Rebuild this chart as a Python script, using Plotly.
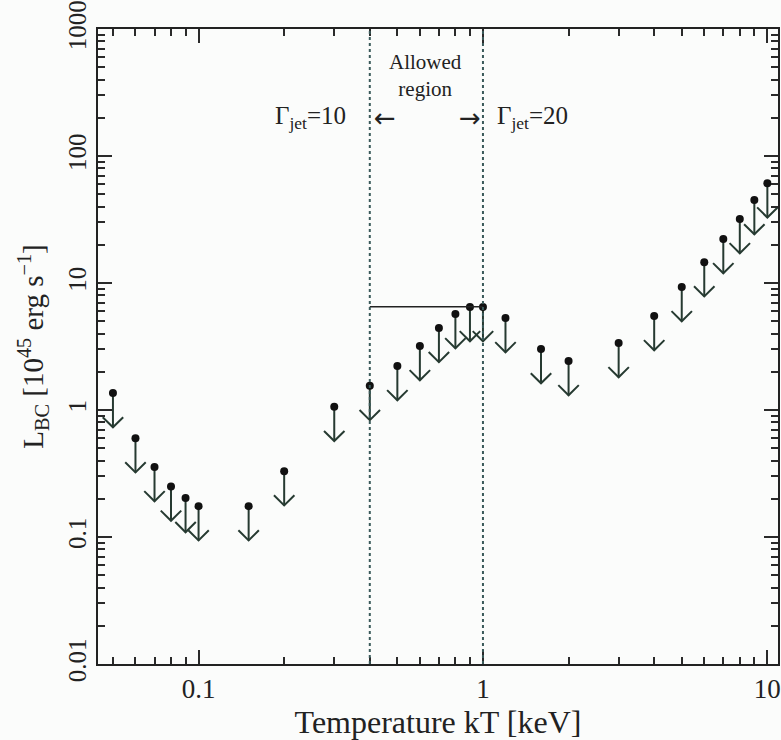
import numpy as np
import plotly.graph_objects as go

# ---- data ----
kT = [0.05, 0.06, 0.07, 0.08, 0.09, 0.10, 0.15, 0.20, 0.30, 0.40, 0.50, 0.60, 0.70,
      0.80, 0.90, 1.00, 1.20, 1.60, 2.00, 3.00, 4.00, 5.00, 6.00, 7.00, 8.00, 9.00, 10.0]
L_upper = [1.36, 0.60, 0.356, 0.25, 0.203, 0.175, 0.175, 0.33, 1.06, 1.55, 2.22, 3.19, 4.43,
           5.7, 6.47, 6.47, 5.3, 3.02, 2.43, 3.37, 5.5, 9.3, 14.6, 22.2, 31.9, 45.0, 61.0]
allowed_range = [0.4, 1.0]
allowed_level = 6.5
x_ticks = [0.1, 1, 10]
x_ticktext = ["0.1", "1", "10"]
y_ticks = [0.01, 0.1, 1, 10, 100, 1000]
y_ticktext = ["0.01", "0.1", "1", "10", "100", "1000"]

# arrow geometry (log units)
stem = 0.27
head_h = 0.08
head_w = 0.036

ARROW = "#263a31"
INK = "#222"
FONT = "Liberation Serif"
XR = [np.log10(0.0443), np.log10(10.9)]
YR = [-2, 3]

sx, sy, hx, hy = [], [], [], []
for x, y in zip(kT, L_upper):
    tip = y * 10 ** (-stem)
    sx += [x, x, None]
    sy += [y, tip, None]
    hx += [x * 10 ** (-head_w), x, x * 10 ** (head_w), None]
    hy += [tip * 10 ** head_h, tip, tip * 10 ** head_h, None]

fig = go.Figure()
fig.add_trace(go.Scatter(x=sx, y=sy, mode="lines", line=dict(color=ARROW, width=2),
                         hoverinfo="skip", showlegend=False))
fig.add_trace(go.Scatter(x=hx, y=hy, mode="lines", line=dict(color=ARROW, width=2),
                         hoverinfo="skip", showlegend=False))
fig.add_trace(go.Scatter(x=kT, y=L_upper, mode="markers",
                         marker=dict(color="#111", size=8, symbol="circle"),
                         showlegend=False))
fig.add_trace(go.Scatter(x=allowed_range, y=[allowed_level, allowed_level], mode="lines",
                         line=dict(color=INK, width=1.5), showlegend=False))
fig.add_trace(go.Scatter(x=[], y=[], xaxis="x2", yaxis="y2", showlegend=False))

for xv in allowed_range:
    fig.add_shape(type="line", x0=xv, x1=xv, y0=0, y1=1, xref="x", yref="paper",
                  line=dict(color="#3a5a5a", width=2, dash="dot"))

def minor_vals(lo, hi):
    v = []
    for d in range(lo, hi + 1):
        for m in range(2, 10):
            v.append(m * 10.0 ** d)
    return v

TICKC = "#2a2a2a"
fig.update_layout(
    xaxis=dict(type="log", range=XR, tickvals=x_ticks, ticktext=x_ticktext,
               ticks="inside", ticklen=14, tickwidth=2, tickcolor=TICKC, layer="above traces",
               showline=True, linecolor=INK, linewidth=2, mirror="ticks",
               showgrid=False, zeroline=False, automargin=False,
               tickfont=dict(family=FONT, size=27, color=INK),
               title=dict(text="Temperature kT [keV]", font=dict(family=FONT, size=32, color=INK),
                          standoff=2)),
    yaxis=dict(type="log", range=YR, tickvals=y_ticks, ticktext=y_ticktext, tickangle=-90,
               ticks="inside", ticklen=14, tickwidth=2, tickcolor=TICKC, layer="above traces",
               showline=True, linecolor=INK, linewidth=2, mirror="ticks",
               showgrid=False, zeroline=False, automargin=False,
               ticklabeloverflow="allow",
               tickfont=dict(family=FONT, size=25, color=INK),
               title=dict(text="L<sub>BC</sub> [10<sup>45</sup> erg s<sup>−1</sup>]",
                          font=dict(family=FONT, size=29, color=INK), standoff=12)),
    xaxis2=dict(type="log", range=XR, overlaying="x", anchor="y", side="bottom",
                tickvals=minor_vals(-2, 1), ticks="inside", ticklen=7, tickwidth=1.5,
                tickcolor=TICKC, showticklabels=False, showgrid=False, zeroline=False,
                showline=False, mirror="ticks", automargin=False),
    yaxis2=dict(type="log", range=YR, overlaying="y", anchor="x", side="left",
                tickvals=minor_vals(-2, 2), ticks="inside", ticklen=7, tickwidth=1.5,
                tickcolor=TICKC, showticklabels=False, showgrid=False, zeroline=False,
                showline=False, mirror="ticks", automargin=False),
)

ann_font = dict(family=FONT, size=25, color=INK)
arrow_font = dict(family="DejaVu Sans", size=26, color=INK)
yl = np.log10(200)
fig.add_annotation(x=np.log10(0.4), y=yl, xref="x", yref="y",
                   text="Γ<sub>jet</sub>=10", showarrow=False, xanchor="right", xshift=-22,
                   font=ann_font)
fig.add_annotation(x=np.log10(0.4), y=yl, xref="x", yref="y",
                   text="←", showarrow=False, xanchor="left", xshift=2, font=arrow_font)
fig.add_annotation(x=np.log10(1.0), y=yl, xref="x", yref="y",
                   text="→", showarrow=False, xanchor="right", xshift=0, font=arrow_font)
fig.add_annotation(x=np.log10(1.0), y=yl, xref="x", yref="y",
                   text="Γ<sub>jet</sub>=20", showarrow=False, xanchor="left", xshift=12,
                   font=ann_font)
fig.add_annotation(x=np.log10(0.63), y=np.log10(430), xref="x", yref="y",
                   text="Allowed<br>region", showarrow=False,
                   font=dict(family=FONT, size=21, color=INK))

fig.update_layout(width=781, height=740, margin=dict(l=98, r=3, t=29, b=76),
                  plot_bgcolor="#fbfcfb", paper_bgcolor="#fbfcfb")
fig.write_html("out.html")
